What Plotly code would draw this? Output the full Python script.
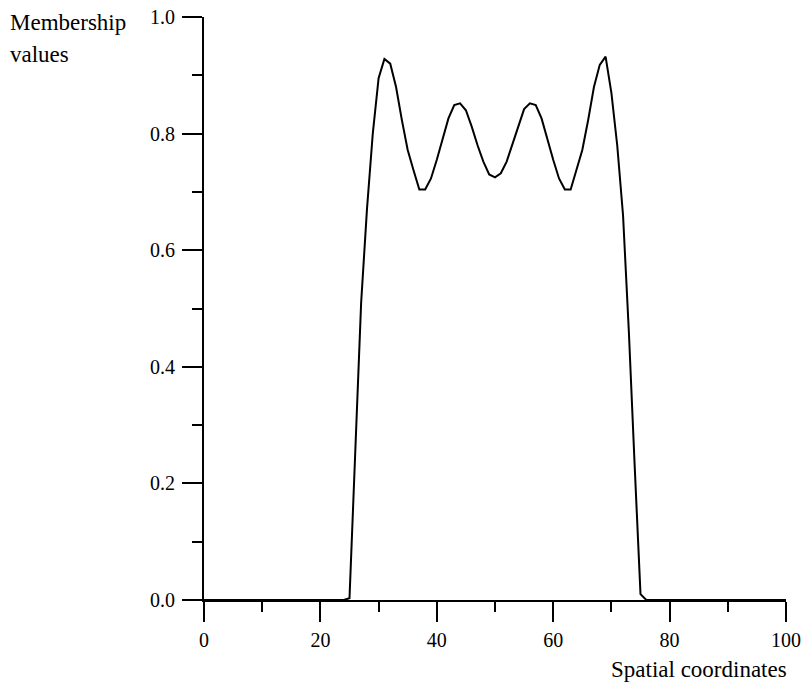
import plotly.graph_objects as go

# Data
x_coords = list(range(0, 101))
membership = (
    [0.0] * 25
    + [0.003, 0.27, 0.51, 0.67, 0.80, 0.895, 0.928, 0.92, 0.88, 0.823,
       0.772, 0.737, 0.704, 0.704, 0.723, 0.755, 0.79, 0.826, 0.849, 0.852,
       0.84, 0.812, 0.78, 0.752, 0.73, 0.725, 0.732, 0.752, 0.782, 0.814,
       0.842, 0.852, 0.849, 0.826, 0.79, 0.755, 0.723, 0.704, 0.704, 0.737,
       0.772, 0.823, 0.88, 0.918, 0.932, 0.87, 0.78, 0.66, 0.46, 0.23,
       0.01]
    + [0.0] * 25
)
x_ticks = [0, 20, 40, 60, 80, 100]
y_ticks = [0.0, 0.2, 0.4, 0.6, 0.8, 1.0]

FONT = "Liberation Serif, Times New Roman, serif"

W, H = 808, 693
L, R, T, B = 204, 22, 17, 93
pw, ph = W - L - R, H - T - B

def px_x(p):
    return (p - L) / pw

def px_y(p):
    return (H - B - p) / ph

fig = go.Figure()
fig.add_trace(go.Scatter(x=x_coords, y=membership, mode="lines",
                         line=dict(color="black", width=2), showlegend=False,
                         hoverinfo="skip"))

fig.update_layout(
    width=W, height=H,
    margin=dict(l=L, r=R, t=T, b=B, pad=0),
    paper_bgcolor="white", plot_bgcolor="white",
    font=dict(family=FONT, size=20, color="black"),
    xaxis=dict(range=[0, 100], tickvals=x_ticks, ticks="outside", ticklen=20,
               tickwidth=2, tickcolor="black", showline=True, linecolor="black",
               linewidth=2, showgrid=False, zeroline=False, automargin=False,
               tickfont=dict(family=FONT, size=20, color="black"),
               ticklabelstandoff=1,
               minor=dict(tickvals=[10, 30, 50, 70, 90], ticks="outside",
                          ticklen=10, tickwidth=2, tickcolor="black",
                          showgrid=False)),
    yaxis=dict(range=[0, 1], tickvals=y_ticks, tickformat=".1f", ticks="outside",
               ticklen=20, tickwidth=2, tickcolor="black", showline=True,
               linecolor="black", linewidth=2, showgrid=False, zeroline=False,
               automargin=False,
               tickfont=dict(family=FONT, size=20, color="black"),
               ticklabelstandoff=3,
               minor=dict(tickvals=[0.1, 0.3, 0.5, 0.7, 0.9], ticks="outside",
                          ticklen=10, tickwidth=2, tickcolor="black",
                          showgrid=False)),
    annotations=[
        dict(text="Membership", xref="paper", yref="paper", x=px_x(8),
             y=px_y(22), xanchor="left", yanchor="middle", showarrow=False,
             font=dict(family=FONT, size=23, color="black")),
        dict(text="values", xref="paper", yref="paper", x=px_x(8),
             y=px_y(54), xanchor="left", yanchor="middle", showarrow=False,
             font=dict(family=FONT, size=23, color="black")),
        dict(text="Spatial coordinates", xref="paper", yref="paper",
             x=px_x(789), y=px_y(669), xanchor="right", yanchor="middle",
             showarrow=False, font=dict(family=FONT, size=23, color="black")),
    ],
)

fig.write_html("out.html")
